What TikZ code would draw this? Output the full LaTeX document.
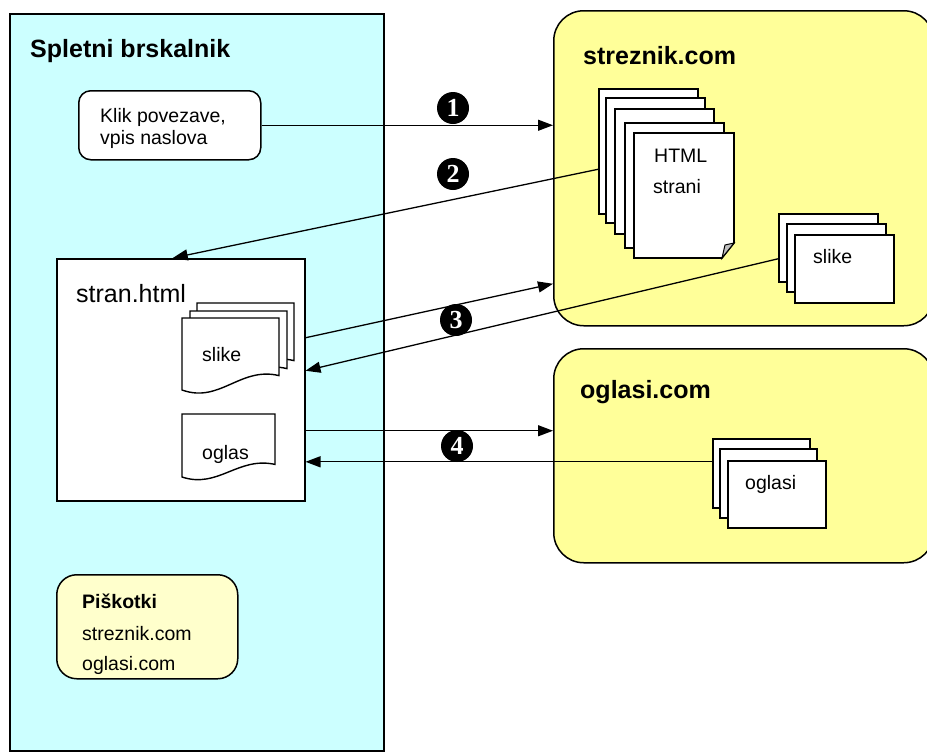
\documentclass[tikz,border=0pt]{standalone}
\usepackage{fontspec}
\setmainfont{Liberation Sans}
\newfontfamily\numfont{Liberation Serif}
\usetikzlibrary{arrows.meta,calc}

\definecolor{browserfill}{RGB}{204,255,255}
\definecolor{serverfill}{RGB}{255,255,153}
\definecolor{cookiefill}{RGB}{255,255,204}
\definecolor{foldgray}{RGB}{192,192,192}

\tikzset{
  box/.style={draw, line width=1.5pt, anchor=north west, inner sep=0pt},
  page/.style={draw, fill=white, line width=1.6pt, anchor=north west, inner sep=0pt},
  txt/.style={anchor=base west, inner sep=0pt, font=\fontsize{19.5}{23}\selectfont},
  title/.style={anchor=base west, inner sep=0pt, font=\fontsize{25}{30}\selectfont\bfseries},
  num/.style={circle, fill=black, text=white, inner sep=0pt, minimum size=32pt,
    font=\fontsize{26}{26}\selectfont\numfont\bfseries},
  link/.style={line width=1.3pt, -{Triangle[length=15pt,width=11pt]}}
}

% document with a wavy lower edge: x, y, width, height
\newcommand{\wavedoc}[4]{%
  \filldraw[fill=white, line width=1.4pt] (#1,{#2+#4}) -- (#1,#2) -- ({#1+#3},#2)
    -- ({#1+#3},{#2+0.8*#4})
    .. controls ({#1+0.6*#3},{#2+0.67*#4}) and ({#1+0.39*#3},{#2+1.19*#4}) .. (#1,{#2+#4})
    -- cycle;}

\begin{document}
\begin{tikzpicture}[x=1pt,y=-1pt]
\fill[white] (0,0) rectangle (927,753);
\useasboundingbox (0,0) rectangle (927,753);

% browser side
\node[box, fill=browserfill, minimum width=374pt, minimum height=737pt] (browser) at (9,13) {};
\node[title] (browsertitle) at (30,57) {Spletni brskalnik};

\node[box, fill=white, rounded corners=12pt, minimum width=182pt, minimum height=69pt] (klik) at (78,90) {};
\node[txt] (klik1) at (100,122) {Klik povezave,};
\node[txt] (klik2) at (100,144) {vpis naslova};

\node[box, fill=white, minimum width=248pt, minimum height=242pt] (stran) at (56,258) {};
\node[anchor=base west, inner sep=0pt, font=\fontsize{25}{30}\selectfont] (strantitle) at (76,302) {stran.html};

% images inside the page
\wavedoc{197}{303}{97}{72}
\wavedoc{190}{311}{97}{72}
\wavedoc{182}{318}{97}{72}
\node[txt] (slikedoc) at (202,361) {slike};

% ad inside the page
\wavedoc{182}{414}{93}{63}
\node[txt] (oglasdoc) at (202,459) {oglas};

% cookies
\node[box, fill=cookiefill, rounded corners=20pt, minimum width=181pt, minimum height=104pt] (cookies) at (56,574) {};
\node[txt, font=\fontsize{19.5}{23}\selectfont\bfseries] (cookie1) at (82,608) {Piškotki};
\node[txt] (cookie2) at (82,640) {streznik.com};
\node[txt] (cookie3) at (82,670) {oglasi.com};

% main server
\node[box, fill=serverfill, rounded corners=30pt, minimum width=380pt, minimum height=315pt] (server) at (553,10) {};
\node[title] (servertitle) at (583,64) {streznik.com};

\node[page, minimum width=99pt, minimum height=125pt] (page1) at (598,88) {};
\node[page, minimum width=99pt, minimum height=125pt] (page2) at (605,97) {};
\node[page, minimum width=99pt, minimum height=125pt] (page3) at (614,108) {};
\node[page, minimum width=99pt, minimum height=125pt] (page4) at (624,122) {};
\filldraw[fill=white, line width=1.6pt] (634,133) -- (734,133) -- (734,243) -- (722,258) -- (634,258) -- cycle;
\filldraw[fill=foldgray, line width=1pt] (722,258) -- (725,245) -- (734,243) -- cycle;
\node[txt] (html1) at (654,162) {HTML};
\node[txt] (html2) at (653,193) {strani};

\node[page, minimum width=99pt, minimum height=68pt] (pic1) at (778,213) {};
\node[page, minimum width=99pt, minimum height=68pt] (pic2) at (786,223) {};
\node[page, minimum width=99pt, minimum height=68pt] (pic3) at (794,234) {};
\node[txt] (pictext) at (813,263) {slike};

% ad server
\node[box, fill=serverfill, rounded corners=30pt, minimum width=380pt, minimum height=214pt] (ads) at (553,348) {};
\node[title] (adstitle) at (580,398) {oglasi.com};

\node[page, minimum width=97pt, minimum height=69pt] (ad1) at (712,438) {};
\node[page, minimum width=97pt, minimum height=69pt] (ad2) at (719,448) {};
\node[page, minimum width=98pt, minimum height=67pt] (ad3) at (727,460) {};
\node[txt] (adtext) at (745,489) {oglasi};

% requests and responses
\coordinate (req) at ($(stran.east)+(0,-42)$);
\coordinate (reqend) at ($(server.west)+(0,115.5)$);
\coordinate (picout) at ($(pic1.west)+(0,11)$);
\coordinate (picin) at ($(stran.east)+(0,-9)$);
\coordinate (adreq) at ($(stran.east)+(0,51)$);
\coordinate (adout) at ($(ad1.west)+(0,-11.5)$);

\draw[link] (klik.east) -- (klik.east -| server.west);
\draw[link] ($(page1.west)+(0,18)$) -- ($(stran.north)+(-8,0)$);
\draw[link] (req) -- (reqend);
\draw[link] (picout) -- (picin);
\draw[link] (adreq) -- (adreq -| ads.west);
\draw[link] (adout) -- (adout -| stran.east);

\node[num] (n1) at (453,108) {1};
\node[num] (n2) at (453,174) {2};
\node[num] (n3) at (456,320) {3};
\node[num] (n4) at (457,446) {4};
\end{tikzpicture}
\end{document}
